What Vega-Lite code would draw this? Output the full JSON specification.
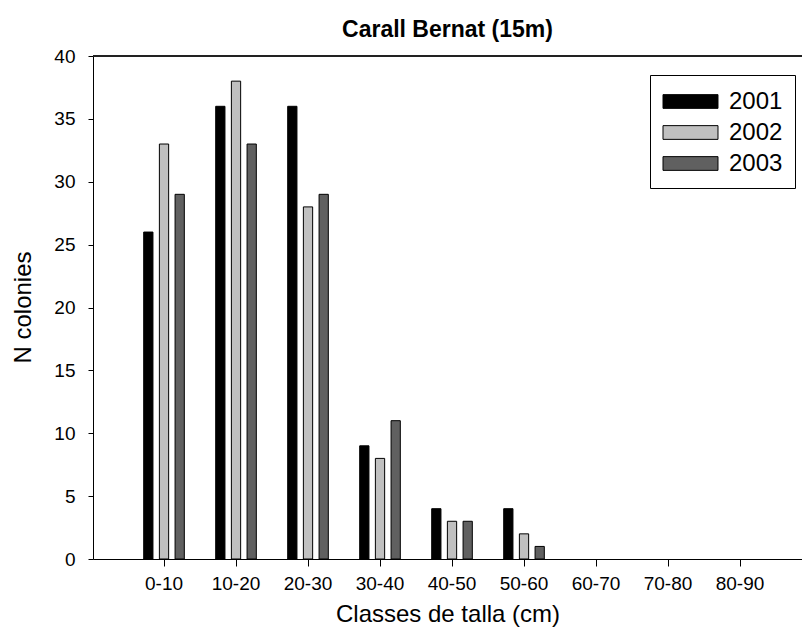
{
  "$schema": "https://vega.github.io/schema/vega-lite/v6.json",
  "width": 709,
  "height": 503,
  "autosize": {"type": "none"},
  "padding": {"left": 93, "top": 56, "right": 0, "bottom": 85},
  "background": "white",
  "config": {"view": {"stroke": null}, "font": "Liberation Sans"},
  "title": {"text": "Carall Bernat (15m)", "fontSize": 23, "fontWeight": "bold", "font": "Liberation Sans", "color": "black", "offset": 5, "anchor": "middle"},
  "data": {"values": [
    {"clase": "0-10", "year": "2001", "n": 26},
    {"clase": "0-10", "year": "2002", "n": 33},
    {"clase": "0-10", "year": "2003", "n": 29},
    {"clase": "10-20", "year": "2001", "n": 36},
    {"clase": "10-20", "year": "2002", "n": 38},
    {"clase": "10-20", "year": "2003", "n": 33},
    {"clase": "20-30", "year": "2001", "n": 36},
    {"clase": "20-30", "year": "2002", "n": 28},
    {"clase": "20-30", "year": "2003", "n": 29},
    {"clase": "30-40", "year": "2001", "n": 9},
    {"clase": "30-40", "year": "2002", "n": 8},
    {"clase": "30-40", "year": "2003", "n": 11},
    {"clase": "40-50", "year": "2001", "n": 4},
    {"clase": "40-50", "year": "2002", "n": 3},
    {"clase": "40-50", "year": "2003", "n": 3},
    {"clase": "50-60", "year": "2001", "n": 4},
    {"clase": "50-60", "year": "2002", "n": 2},
    {"clase": "50-60", "year": "2003", "n": 1}
  ]},
  "layer": [
    {
      "mark": {"type": "bar", "stroke": "black", "strokeWidth": 1},
      "encoding": {
        "x": {
          "field": "clase", "type": "nominal",
          "scale": {"domain": ["0-10","10-20","20-30","30-40","40-50","50-60","60-70","70-80","80-90"], "paddingInner": 0, "paddingOuter": 0.4236, "align": 0.574},
          "title": "Classes de talla (cm)",
          "axis": {"labelAngle": 0, "domainColor": "black", "tickColor": "black", "tickSize": 7, "labelPadding": 8, "labelFontSize": 19, "labelColor": "black", "labelFont": "Liberation Sans", "titleFontSize": 24, "titleFontWeight": "normal", "titleColor": "black", "titleFont": "Liberation Sans", "titlePadding": 9}
        },
        "xOffset": {"field": "year", "type": "nominal", "scale": {"paddingInner": 0.41, "paddingOuter": 1.19}},
        "y": {
          "field": "n", "type": "quantitative",
          "scale": {"domain": [0, 40], "nice": false},
          "title": "N colonies",
          "axis": {"values": [0,5,10,15,20,25,30,35,40], "grid": false, "domainColor": "black", "tickColor": "black", "tickSize": 5, "labelPadding": 13, "labelFontSize": 19, "labelColor": "black", "labelFont": "Liberation Sans", "titleFontSize": 24, "titleFontWeight": "normal", "titleColor": "black", "titleFont": "Liberation Sans", "titleX": -70, "titleY": 251, "titleBaseline": "middle", "titleAlign": "center"}
        },
        "color": {
          "field": "year", "type": "nominal",
          "scale": {"domain": ["2001","2002","2003"], "range": ["#000000","#c0c0c0","#606060"]},
          "legend": {"orient": "none", "legendX": 557, "legendY": 19, "title": null, "strokeColor": "black", "fillColor": "white", "padding": 12, "symbolType": "M-2,-0.5H2V0.5H-2Z", "symbolSize": 756, "symbolOffset": 14, "symbolStrokeColor": "black", "symbolStrokeWidth": 1, "symbolOpacity": 1, "labelFontSize": 24, "labelFont": "Liberation Sans", "labelColor": "black", "labelOffset": 24, "rowPadding": 4}
        }
      }
    },
    {
      "mark": {"type": "rule", "color": "#222222", "strokeWidth": 1},
      "encoding": {"y": {"datum": 40}}
    }
  ]
}
